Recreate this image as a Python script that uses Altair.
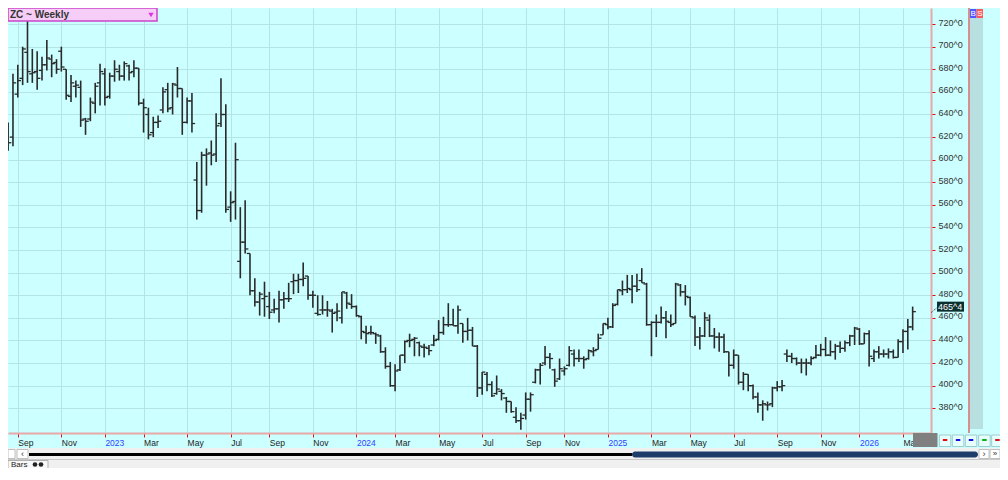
import altair as alt
import pandas as pd

# ---------------- data (weekly OHLC) ----------------
first_week = "2022-08-12"   # date of the first weekly bar (Friday)

opens = [
    605, 630, 620, 658, 672, 695, 676, 678, 679, 684,
    689, 686, 696, 680, 656, 665, 664, 636, 636, 650,
    668, 676, 656, 674, 678, 674, 683, 678, 681, 650,
    640, 624, 633, 644, 662, 646, 666, 663, 633, 652,
    582, 555, 604, 606, 605, 632, 640, 558, 563,
    510, 527, 517, 484, 474, 477, 470, 467, 468, 476, 477,
    492, 493, 494, 497, 480, 464, 467, 467, 466, 465,
    460, 482, 472, 470, 461, 447, 447, 446, 444, 430,
    417, 400, 414, 427, 440, 441, 438, 434, 433, 436,
    441, 447, 454, 454, 453, 455, 448, 449, 435, 398,
    410, 401, 393,
    395, 389, 386, 372, 369, 374, 388,
    403, 414, 420, 425, 414, 406, 413, 418, 428, 424,
    424, 424, 430, 432, 445, 454, 452, 472, 484, 485,
    485, 488, 493, 490, 454, 456, 456, 460, 456, 455,
    489, 483, 478, 460, 443, 444, 458, 444, 443,
    443, 430, 418, 427, 403, 410, 400, 390, 383, 383, 384,
    398, 399, 428, 426, 424, 420, 420, 420, 425, 427,
    432, 427, 430, 435, 433, 438, 444, 450, 437, 446,
    424, 430, 428, 428, 430, 425, 439, 448, 452,
]
highs = [
    641, 633, 676, 684, 700, 724, 698, 696, 691, 706,
    693, 689, 700, 680, 675, 670, 670, 637, 655, 668,
    685, 681, 677, 688, 684, 687, 684, 688, 681, 654,
    646, 638, 639, 664, 668, 668, 682, 663, 655, 659,
    598, 607, 610, 617, 641, 672, 649, 572, 615,
    558, 564, 517, 495, 483, 492, 483, 477, 484, 483, 491,
    499, 499, 509, 497, 484, 480, 480, 475, 468, 473,
    483, 483, 481, 471, 462, 453, 453, 447, 445, 434,
    421, 419, 427, 440, 446, 443, 439, 437, 436, 445,
    458, 461, 473, 468, 471, 455, 460, 452, 436, 412,
    412, 404, 409,
    397, 390, 386, 381, 376, 394, 394,
    415, 420, 435, 429, 415, 424, 417, 435, 432, 432,
    426, 432, 434, 446, 455, 460, 473, 485, 493, 498,
    498, 499, 504, 491, 457, 463, 470, 466, 463, 491,
    490, 489, 479, 462, 452, 465, 463, 451, 447,
    446, 430, 432, 427, 412, 410, 401, 394, 387, 386, 399,
    404, 405, 432, 429, 425, 424, 424, 426, 436, 437,
    443, 440, 437, 439, 440, 445, 452, 451, 447, 449,
    432, 435, 432, 433, 432, 441, 450, 459, 470,
]
lows = [
    601, 608, 612, 655, 666, 668, 668, 662, 670, 679,
    673, 676, 678, 653, 651, 655, 629, 622, 634, 641,
    648, 648, 654, 669, 670, 670, 670, 673, 648, 624,
    618, 620, 628, 641, 642, 640, 655, 622, 632, 624,
    547, 553, 577, 595, 598, 629, 553, 545, 547,
    495, 517, 480, 470, 462, 461, 459, 464, 456, 468, 474,
    481, 482, 488, 476, 469, 462, 463, 461, 447, 457,
    455, 468, 468, 461, 441, 437, 445, 437, 429, 415,
    399, 395, 413, 420, 434, 426, 426, 425, 427, 435,
    440, 445, 452, 453, 446, 438, 440, 435, 390, 392,
    395, 390, 392,
    387, 376, 376, 367, 361, 370, 377,
    402, 401, 418, 415, 399, 405, 409, 417, 417, 421,
    415, 423, 426, 432, 445, 450, 451, 471, 480, 482,
    473, 483, 491, 453, 426, 443, 455, 442, 452, 455,
    479, 471, 461, 435, 432, 443, 443, 433, 430,
    429, 408, 415, 401, 396, 395, 388, 376, 369, 378, 381,
    395, 395, 421, 420, 418, 411, 409, 418, 424, 426,
    426, 426, 423, 429, 430, 435, 436, 436, 437, 417,
    421, 424, 425, 424, 424, 425, 429, 432, 449,
]
closes = [
    632, 615, 668, 670, 698, 678, 677, 672, 684, 690,
    685, 680, 682, 657, 668, 666, 635, 634, 651, 665,
    678, 655, 674, 680, 674, 685, 677, 681, 650, 646,
    622, 633, 634, 660, 645, 667, 663, 633, 652, 632,
    555, 604, 605, 604, 630, 640, 556, 562, 600,
    527, 521, 484, 474, 481, 479, 465, 468, 476, 477, 477,
    493, 494, 495, 480, 480, 463, 467, 467, 464, 466,
    483, 473, 470, 462, 448, 446, 447, 445, 430, 417,
    400, 413, 427, 439, 440, 442, 435, 434, 431, 440,
    447, 454, 454, 453, 467, 448, 449, 435, 398, 412,
    401, 391, 397,
    393, 386, 377, 369, 371, 388, 392,
    414, 418, 425, 424, 404, 415, 415, 431, 424, 424,
    423, 431, 431, 442, 455, 452, 471, 485, 485, 486,
    488, 485, 491, 454, 456, 456, 460, 457, 454, 490,
    483, 479, 461, 443, 444, 460, 444, 443, 443,
    430, 418, 427, 403, 410, 400, 390, 383, 384, 383, 398,
    399, 400, 426, 424, 420, 420, 420, 424, 427, 432,
    427, 430, 435, 433, 438, 444, 451, 437, 446, 426,
    430, 428, 428, 430, 425, 439, 448, 452, 465.5,
]
y_ticks = [380, 400, 420, 440, 460, 480, 500, 520, 540, 560,
           580, 600, 620, 640, 660, 680, 700, 720]
tick_months = [1, 3, 5, 7, 9, 11]
title_text = "ZC ~ Weekly"
tab_text = "Bars"

# ---------------- table built from the arrays ----------------
dates = pd.date_range(first_week, periods=len(closes), freq="7D")
df = pd.DataFrame({
    "date": dates.strftime("%Y-%m-%d"),
    "open": opens, "high": highs, "low": lows, "close": closes,
})
last_df = df.iloc[[-1]].copy()

# x ticks: first weekly bar of every other month
ds = pd.Series(dates)
firsts = ds.groupby([ds.dt.year, ds.dt.month]).min()
tick_ms = [int(t.value // 10**6) for t in firsts if t.month in tick_months]

# ---------------- layout ----------------
W, H = 923, 425
PX_WEEK = 4.837          # pixels per weekly bar
FIRST_X = -4.7           # plot x of the first bar
d0 = dates[0]
x_start = d0 + pd.Timedelta(days=7 * (0 - FIRST_X) / PX_WEEK)
x_end = d0 + pd.Timedelta(days=7 * (W - FIRST_X) / PX_WEEK)
xscale = alt.Scale(type="utc", domain=[int(x_start.value // 10**6), int(x_end.value // 10**6)])
yscale = alt.Scale(domain=[358.1, 734.25], nice=False, zero=False)

FONT = "Liberation Sans"
BG = "#ccffff"
GRID = "#b4e4e4"
BARC = "#2a2a2a"
AXISLINE = "#e6a8a8"
TICKRED = "#e01010"

xaxis = alt.Axis(
    values=tick_ms, title=None, grid=True, gridColor=GRID, gridWidth=1,
    labelExpr="utcmonth(datum.value) == 0 ? utcFormat(datum.value, '%Y') : utcFormat(datum.value, '%b')",
    labelColor={"condition": {"test": "utcmonth(datum.value) == 0", "value": "#3340ff"}, "value": "#222222"},
    labelAlign="left", labelBaseline="top", labelPadding=1, labelFont=FONT, labelFontSize=8.5,
    labelOverlap=False, labelFlush=False, labelBound=False,
    tickSize=4, tickColor=TICKRED, tickWidth=1, domainColor=AXISLINE, domainWidth=2,
)
yaxis = alt.Axis(
    orient="right", values=y_ticks, title=None, grid=True, gridColor=GRID, gridWidth=1,
    labelExpr="datum.value + '^0'", labelFont=FONT, labelFontSize=9, labelColor="#333333",
    labelPadding=3, labelBaseline="middle", labelOffset=-2, labelOverlap=False,
    tickSize=4, tickColor=TICKRED, tickWidth=1, domainColor=AXISLINE, domainWidth=2,
)

X = alt.X("date:T", scale=xscale, axis=xaxis)


def Y(field):
    return alt.Y(field, scale=yscale, axis=yaxis)


base = alt.Chart(df)
hl = base.mark_rule(color=BARC, strokeWidth=1.6, clip=True).encode(x=X, y=Y("low:Q"), y2="high:Q")
op = base.mark_rule(color=BARC, strokeWidth=1.3, xOffset=-3.2, x2Offset=0, clip=True).encode(
    x=X, x2="date:T", y=Y("open:Q"))
cl = base.mark_rule(color=BARC, strokeWidth=1.3, xOffset=0, x2Offset=3.2, clip=True).encode(
    x=X, x2="date:T", y=Y("close:Q"))

# last price tag
lab = alt.Chart(last_df).transform_calculate(
    lbl="floor(datum.close) + '^' + round((datum.close - floor(datum.close)) * 8)")
tag_box = lab.mark_rect(color="#0c3030", yOffset=-10, y2Offset=0).encode(
    x=alt.value(929), x2=alt.value(956), y=Y("close:Q"), y2="close:Q")
tag_txt = lab.mark_text(color="white", font=FONT, fontSize=9, align="left", baseline="middle", dy=-5).encode(
    x=alt.value(930), y=Y("close:Q"), text="lbl:N")
tag_line = lab.mark_rule(color="#333333", strokeWidth=1, strokeDash=[1, 1], yOffset=1, y2Offset=-4).encode(
    x=alt.value(923), x2=alt.value(929), y=Y("close:Q"), y2="close:Q")

# ---------------- window chrome ----------------
one = pd.DataFrame({"k": [0]})


def box(x, x2, y, y2, **kw):
    return alt.Chart(one).mark_rect(**kw).encode(
        x=alt.value(x), x2=alt.value(x2), y=alt.value(y), y2=alt.value(y2))


def hline(x, x2, y, **kw):
    return alt.Chart(one).mark_rule(**kw).encode(x=alt.value(x), x2=alt.value(x2), y=alt.value(y))


def vline(x, y, y2, **kw):
    return alt.Chart(one).mark_rule(**kw).encode(x=alt.value(x), y=alt.value(y), y2=alt.value(y2))


def label(x, y, txt, **kw):
    return alt.Chart(one).mark_text(**kw).encode(x=alt.value(x), y=alt.value(y), text=alt.value(txt))


def dot(x, y, **kw):
    return alt.Chart(one).mark_point(**kw).encode(x=alt.value(x), y=alt.value(y))


chrome = [
    # title drop-down
    box(0, 149, 0, 13, fill="#f6cdf6", stroke="#cc44cc", strokeWidth=1.5),
    label(2, 7, title_text, font=FONT, fontSize=10, fontWeight="bold", color="#333333",
          align="left", baseline="middle"),
    dot(143, 7, shape="triangle-down", filled=True, size=28, color="#dd33dd", opacity=1),
    # right side strip
    vline(961, 0, 425, color="#e02020", strokeWidth=1),
    box(962, 975, 10, 421, fill="#b8e0e0"),
    box(962, 968.5, 1, 10, fill="#5555ff"),
    box(968.5, 975, 1, 10, fill="#ff5a5a"),
    label(965.2, 6, "B", font=FONT, fontSize=8, color="white", align="center", baseline="middle"),
    label(971.8, 6, "S", font=FONT, fontSize=8, color="white", align="center", baseline="middle"),
    # cover over last month label
    box(905, 929.5, 425, 439, fill="#808080"),
]
btn_cols = ["#e01010", "#1010e0", "#1010e0", "#10b010", "#e01010"]
btn_x = [931.3, 944.3, 957.3, 970.7, 983.7]
for bx, bc in zip(btn_x, btn_cols):
    chrome.append(box(bx, bx + 11.5, 427, 438.5, fill="#e6ffff", stroke="#9ccccc", strokeWidth=1))
    chrome.append(hline(bx + 3.5, bx + 8, 432, color=bc, strokeWidth=2))

chrome += [
    # bottom scrollbar band
    box(-2, 994, 440, 462, fill="#f0f0f0"),
    box(0, 7, 441.5, 450.5, fill="white", stroke="#c0c0c0", strokeWidth=1),
    box(9, 20, 441.5, 450.5, fill="white", stroke="#c0c0c0", strokeWidth=1),
    label(14.5, 446, "\u2039", font=FONT, fontSize=9, color="#333333", align="center", baseline="middle"),
    hline(21, 624, 446.5, color="#000000", strokeWidth=3),
    box(624, 970, 443.5, 449.5, fill="#1e3c6a", cornerRadius=3),
    box(971, 981, 441.5, 450.5, fill="white", stroke="#c0c0c0", strokeWidth=1),
    box(982, 992, 441.5, 450.5, fill="white", stroke="#c0c0c0", strokeWidth=1),
    label(976, 446, "\u203a", font=FONT, fontSize=9, color="#333333", align="center", baseline="middle"),
    label(987, 446, "\u00bb", font=FONT, fontSize=8, color="#333333", align="center", baseline="middle"),
    hline(-2, 994, 451.5, color="#c8c8c8", strokeWidth=1),
    box(0, 40, 452.5, 461, fill="#f8f8f8", stroke="#b0b0b0", strokeWidth=1),
    label(3, 456.5, tab_text, font=FONT, fontSize=8, color="#222222", align="left", baseline="middle"),
    dot(27, 456.5, shape="circle", filled=True, size=22, color="#222222", opacity=1),
    dot(33, 456.5, shape="circle", filled=True, size=22, color="#222222", opacity=1),
]

layers = [hl, op, cl, tag_line, tag_box, tag_txt] + chrome

chart = alt.layer(*layers).properties(
    width=W, height=H,
    padding={"left": 0, "top": 0, "right": 69, "bottom": 35},
    autosize=alt.AutoSizeParams(type="none"),
    background=BG,
).configure_view(stroke=None, fill=BG)

chart.save("out.html", embed_options={"renderer": "svg", "actions": False})
